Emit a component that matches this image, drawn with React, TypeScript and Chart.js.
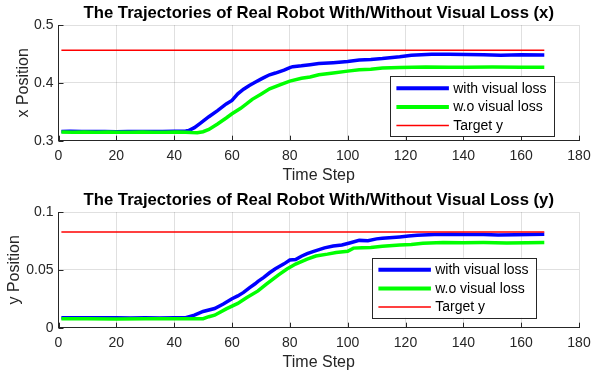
import React, { useEffect, useRef } from 'react';
import { Chart, registerables } from 'chart.js';

Chart.register(...registerables);

const FONT = "'Liberation Sans', Arial, Helvetica, sans-serif";

// ---------- data ----------
const xTickValues = [0, 20, 40, 60, 80, 100, 120, 140, 160, 180];
const xTickLabels = ['0', '20', '40', '60', '80', '100', '120', '140', '160', '180'];
const topYTickValues = [0.3, 0.4, 0.5];
const topYTickLabels = ['0.3', '0.4', '0.5'];
const bottomYTickValues = [0, 0.05, 0.1];
const bottomYTickLabels = ['0', '0.05', '0.1'];

const seriesLabels = ['with visual loss', 'w.o visual loss', 'Target y'];
const titles = [
  'The Trajectories of Real Robot With/Without Visual Loss (x)',
  'The Trajectories of Real Robot With/Without Visual Loss (y)',
];
const yTitles = ['x Position', 'y Position'];
const xTitle = 'Time Step';

const targetSteps = [1, 168];
const targetXValue = 0.4565;
const targetYValue = 0.0828;

// x position, with visual loss: [time step, value]
const xWithLoss: number[][] = [
  [1, 0.316], [4, 0.3165], [8, 0.316], [12, 0.3158], [16, 0.316], [20, 0.3155], [24, 0.3157],
  [28, 0.316], [32, 0.3158], [36, 0.316], [40, 0.3162], [44, 0.3168], [45, 0.3175], [47, 0.3225],
  [49, 0.33], [52, 0.3415], [55, 0.352], [58, 0.3635], [60, 0.3696], [62, 0.381], [64, 0.389],
  [66, 0.3955], [68, 0.401], [70, 0.4065], [71, 0.409], [73, 0.414], [75, 0.417], [78, 0.422],
  [80, 0.4265], [81, 0.428], [84, 0.4295], [87, 0.4315], [90, 0.4333], [95, 0.435], [100, 0.437],
  [104, 0.4395], [108, 0.4405], [112, 0.442], [118, 0.445], [122, 0.4478], [129, 0.4496],
  [135, 0.4495], [141, 0.449], [147, 0.4488], [153, 0.4478], [160, 0.4485], [168, 0.4484],
];

// x position, without visual loss
const xWithoutLoss: number[][] = [
  [1, 0.315], [5, 0.3148], [9, 0.315], [13, 0.3145], [17, 0.315], [21, 0.3148], [25, 0.3147],
  [29, 0.315], [33, 0.3148], [37, 0.3145], [41, 0.315], [44, 0.3148], [46, 0.314], [48, 0.3138],
  [50, 0.3155], [52, 0.3195], [55, 0.329], [58, 0.3392], [60, 0.3465], [63, 0.356], [65, 0.3635],
  [67, 0.3715], [70, 0.3805], [73, 0.3897], [77, 0.3975], [80, 0.403], [84, 0.408], [87, 0.4101],
  [90, 0.414], [95, 0.417], [100, 0.4203], [104, 0.4225], [108, 0.4237], [112, 0.4257],
  [118, 0.4264], [127, 0.4275], [135, 0.4272], [141, 0.427], [150, 0.4275], [160, 0.4272],
  [168, 0.427],
];

// y position, with visual loss
const yWithLoss: number[][] = [
  [1, 0.0085], [5, 0.0086], [10, 0.0085], [15, 0.0086], [20, 0.0085], [25, 0.0084], [30, 0.0085],
  [35, 0.0084], [40, 0.0085], [44, 0.0086], [47, 0.0108], [50, 0.014], [54, 0.0166], [57, 0.0205],
  [60, 0.025], [62, 0.0275], [64, 0.0305], [66, 0.0345], [68, 0.038], [69, 0.04], [71, 0.0435],
  [73, 0.0475], [75, 0.051], [78, 0.0552], [80, 0.0585], [82, 0.059], [84, 0.0618], [86, 0.064],
  [88, 0.0658], [92, 0.069], [95, 0.0707], [98, 0.0715], [101, 0.0735], [104, 0.0755],
  [107, 0.0752], [110, 0.0768], [112, 0.0774], [118, 0.0785], [121, 0.0792], [124, 0.08],
  [130, 0.0806], [136, 0.0808], [142, 0.0805], [147, 0.0806], [152, 0.0802], [158, 0.0803],
  [163, 0.0806], [168, 0.0808],
];

// y position, without visual loss
const yWithoutLoss: number[][] = [
  [1, 0.0077], [10, 0.0077], [20, 0.0076], [30, 0.0077], [40, 0.0077], [45, 0.0077], [50, 0.0078],
  [52, 0.0095], [54, 0.0108], [58, 0.0163], [62, 0.021], [65, 0.0258], [69, 0.0318], [72, 0.0378],
  [76, 0.0455], [79, 0.0507], [82, 0.055], [86, 0.0593], [89, 0.062], [93, 0.0636], [96, 0.065],
  [100, 0.066], [102, 0.0688], [105, 0.0692], [108, 0.0693], [112, 0.0705], [118, 0.0716],
  [122, 0.072], [126, 0.0731], [133, 0.0736], [140, 0.0735], [147, 0.0736], [155, 0.0733],
  [162, 0.0735], [168, 0.0736],
];

// ---------- styling ----------
const AXIS_COLOR = '#262626';
const GRID_COLOR = 'rgba(38,38,38,0.14)';
const BLUE = '#0000ff';
const GREEN = '#00ff00';
const RED = '#ff0000';

const inwardTicks = {
  id: 'inwardTicks',
  afterDatasetsDraw(chart: any) {
    const { ctx, chartArea: a, scales } = chart;
    const xs = scales.x;
    const ys = scales.y;
    ctx.save();
    ctx.strokeStyle = AXIS_COLOR;
    ctx.lineWidth = 1;
    ctx.beginPath();
    xs.ticks.forEach((t: any) => {
      const px = Math.round(xs.getPixelForValue(t.value)) + 0.5;
      ctx.moveTo(px, a.bottom);
      ctx.lineTo(px, a.bottom - 5);
    });
    ys.ticks.forEach((t: any) => {
      const py = Math.round(ys.getPixelForValue(t.value)) + 0.5;
      ctx.moveTo(a.left, py);
      ctx.lineTo(a.left + 5, py);
    });
    ctx.stroke();
    ctx.restore();
  },
};

const boxLegend = {
  id: 'boxLegend',
  afterDraw(chart: any, _args: any, opts: any) {
    const { ctx, chartArea: a } = chart;
    const right = a.right - opts.insetRight;
    const bottom = a.bottom - opts.insetBottom;
    const left = right - opts.width;
    const top = bottom - opts.height;
    ctx.save();
    ctx.fillStyle = '#ffffff';
    ctx.fillRect(left, top, opts.width, opts.height);
    ctx.strokeStyle = AXIS_COLOR;
    ctx.lineWidth = 1;
    ctx.strokeRect(Math.round(left) + 0.5, Math.round(top) + 0.5, Math.round(opts.width), Math.round(opts.height));
    ctx.font = `14px ${FONT}`;
    ctx.textBaseline = 'middle';
    ctx.textAlign = 'left';
    opts.order.forEach((dsIndex: number, row: number) => {
      const ds = chart.data.datasets[dsIndex];
      const cy = top + opts.rowStart + row * opts.rowGap;
      ctx.strokeStyle = ds.borderColor;
      ctx.lineWidth = opts.sampleWidths[row];
      ctx.beginPath();
      ctx.moveTo(left + opts.lineStart, cy);
      ctx.lineTo(left + opts.lineEnd, cy);
      ctx.stroke();
      ctx.fillStyle = '#000000';
      ctx.fillText(ds.label, left + opts.textStart, cy + 0.5);
    });
    ctx.restore();
  },
};

function toPoints(pairs: number[][]) {
  return pairs.map((p) => ({ x: p[0], y: p[1] }));
}

function makeConfig(
  title: string,
  yTitle: string,
  withLoss: number[][],
  withoutLoss: number[][],
  target: number,
  yTicks: number[],
  yLabels: string[],
  legendPos: { insetRight: number; insetBottom: number },
  yTitlePad: number,
) {
  return {
    type: 'line',
    data: {
      datasets: [
        {
          label: seriesLabels[0],
          data: toPoints(withLoss),
          borderColor: BLUE,
          borderWidth: 3.5,
          pointRadius: 0,
          tension: 0,
          order: 3,
        },
        {
          label: seriesLabels[1],
          data: toPoints(withoutLoss),
          borderColor: GREEN,
          borderWidth: 3.5,
          pointRadius: 0,
          tension: 0,
          order: 2,
        },
        {
          label: seriesLabels[2],
          data: targetSteps.map((t) => ({ x: t, y: target })),
          borderColor: RED,
          borderWidth: 1.5,
          pointRadius: 0,
          tension: 0,
          order: 1,
        },
      ],
    },
    options: {
      responsive: false,
      maintainAspectRatio: false,
      devicePixelRatio: 1,
      animation: false,
      events: [],
      layout: { padding: { left: 0, right: 13, top: 0, bottom: 0 } },
      scales: {
        x: {
          type: 'linear',
          min: xTickValues[0],
          max: xTickValues[xTickValues.length - 1],
          afterBuildTicks: (s: any) => {
            s.ticks = xTickValues.map((v) => ({ value: v }));
          },
          afterFit: (s: any) => {
            s.height = 46.3;
            s.paddingLeft = 0;
            s.paddingRight = 0;
          },
          ticks: {
            color: AXIS_COLOR,
            font: { family: FONT, size: 14 },
            padding: 7,
            maxRotation: 0,
            autoSkip: false,
            callback: (v: number) => xTickLabels[xTickValues.indexOf(v)],
          },
          grid: { color: GRID_COLOR, drawTicks: false, lineWidth: 1 },
          border: { display: true, color: AXIS_COLOR, width: 1 },
          title: {
            display: true,
            text: xTitle,
            color: AXIS_COLOR,
            font: { family: FONT, size: 16 },
            padding: { top: 0, bottom: 2 },
          },
        },
        y: {
          type: 'linear',
          min: yTicks[0],
          max: yTicks[yTicks.length - 1],
          afterBuildTicks: (s: any) => {
            s.ticks = yTicks.map((v) => ({ value: v }));
          },
          afterFit: (s: any) => {
            s.width = 58.5;
            s.paddingTop = 0;
            s.paddingBottom = 0;
          },
          ticks: {
            color: AXIS_COLOR,
            font: { family: FONT, size: 14 },
            padding: 5,
            autoSkip: false,
            callback: (v: number) => yLabels[yTicks.indexOf(v)],
          },
          grid: { color: GRID_COLOR, drawTicks: false, lineWidth: 1 },
          border: { display: true, color: AXIS_COLOR, width: 1 },
          title: {
            display: true,
            text: yTitle,
            color: AXIS_COLOR,
            font: { family: FONT, size: 16 },
            padding: { top: yTitlePad, bottom: 0 },
          },
        },
      },
      plugins: {
        legend: { display: false },
        tooltip: { enabled: false },
        title: {
          display: true,
          text: title,
          fullSize: false,
          color: '#000000',
          font: { family: FONT, size: 16.7, weight: 'bold' },
          padding: { top: 3.1, bottom: 1.9 },
        },
        boxLegend: {
          insetRight: legendPos.insetRight,
          insetBottom: legendPos.insetBottom,
          width: 163.6,
          height: 60,
          order: [0, 1, 2],
          rowStart: 12,
          rowGap: 18.7,
          lineStart: 6,
          lineEnd: 58.5,
          textStart: 62.8,
          sampleWidths: [4, 4, 1.5],
        },
      },
    },
    plugins: [inwardTicks, boxLegend],
  };
}

function Panel({ config }: { config: any }) {
  const ref = useRef<HTMLCanvasElement | null>(null);
  useEffect(() => {
    if (!ref.current) return;
    const chart = new Chart(ref.current, config);
    return () => chart.destroy();
  }, [config]);
  return (
    <canvas
      ref={ref}
      width={592}
      height={187}
      style={{ display: 'block', width: 592, height: 187 }}
    />
  );
}

const topConfig = makeConfig(
  titles[0], yTitles[0], xWithLoss, xWithoutLoss, targetXValue,
  topYTickValues, topYTickLabels, { insetRight: 25, insetBottom: 4.5 }, 13.5,
);
const bottomConfig = makeConfig(
  titles[1], yTitles[1], yWithLoss, yWithoutLoss, targetYValue,
  bottomYTickValues, bottomYTickLabels, { insetRight: 43, insetBottom: 10 }, 4.8,
);

export default function App() {
  return (
    <div
      style={{
        position: 'absolute',
        left: 0,
        top: 0,
        width: 592,
        height: 374,
        background: '#ffffff',
      }}
    >
      <Panel config={topConfig} />
      <Panel config={bottomConfig} />
    </div>
  );
}
